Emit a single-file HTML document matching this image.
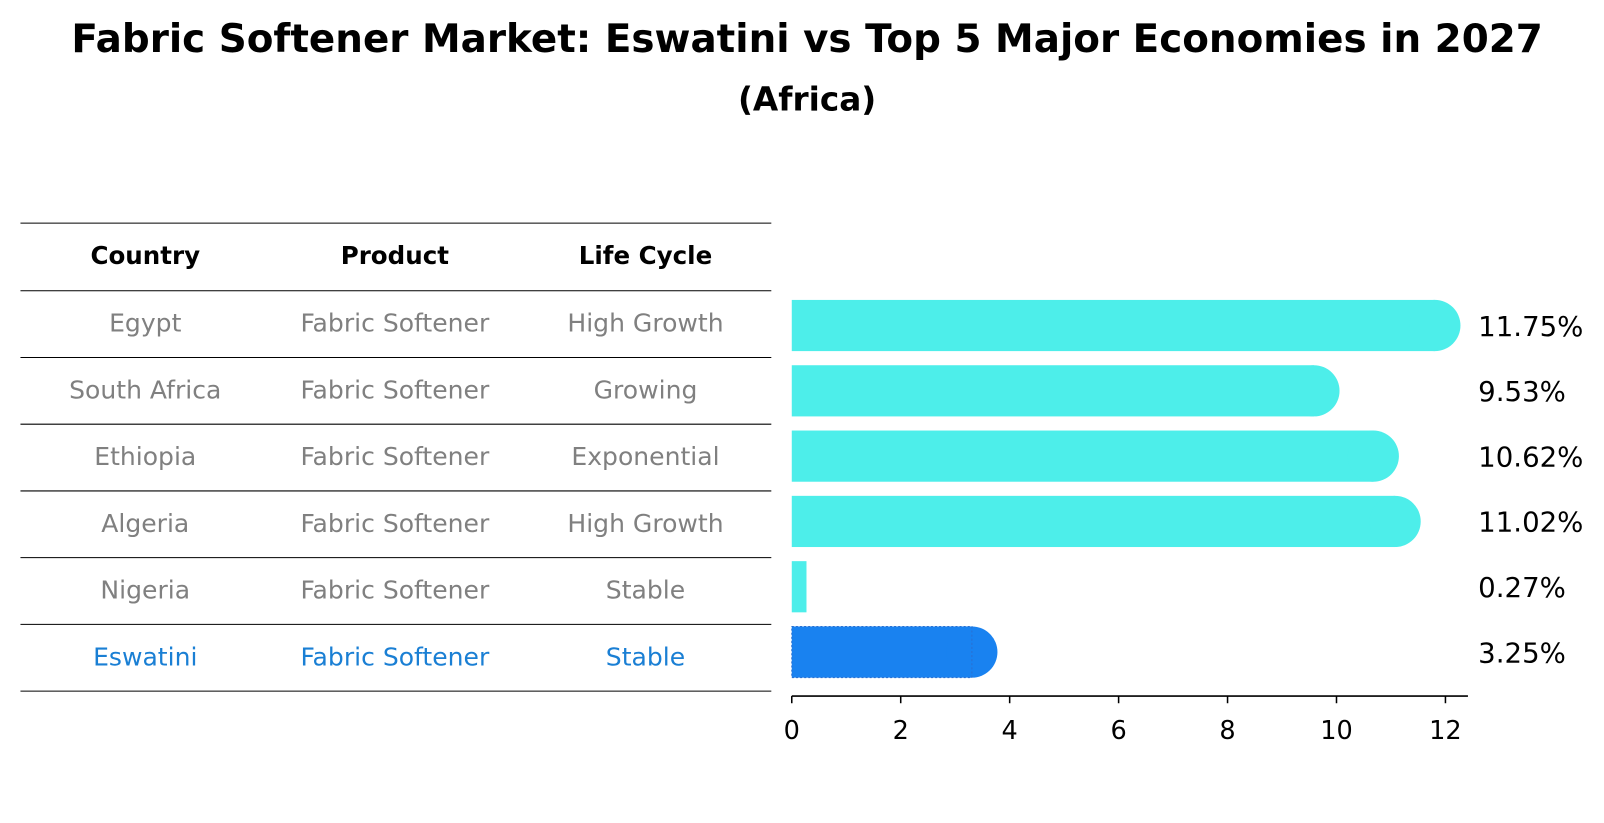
<!DOCTYPE html>
<html><head><meta charset="utf-8"><style>
html,body{margin:0;padding:0;background:#fff;}
svg{display:block;font-family:"DejaVu Sans","Liberation Sans",sans-serif;}
</style></head><body>
<svg id="chart" width="1604" height="823" viewBox="0 0 1568 804" preserveAspectRatio="none" xmlns="http://www.w3.org/2000/svg">
<rect width="1568" height="804" fill="#fff"/>
<text x="789" y="51" text-anchor="middle" font-size="38" font-weight="bold">Fabric Softener Market: Eswatini vs Top 5 Major Economies in 2027</text>
<text x="789" y="108" text-anchor="middle" font-size="32" font-weight="bold">(Africa)</text>
<g id="table"></g>
<g id="bars"></g>
</svg>
<script>
const countries = ["Egypt","South Africa","Ethiopia","Algeria","Nigeria","Eswatini"];
const products = ["Fabric Softener","Fabric Softener","Fabric Softener","Fabric Softener","Fabric Softener","Fabric Softener"];
const lifeCycles = ["High Growth","Growing","Exponential","High Growth","Stable","Stable"];
const values = [11.75, 9.53, 10.62, 11.02, 0.27, 3.25];
const valueLabels = ["11.75%","9.53%","10.62%","11.02%","0.27%","3.25%"];
const ticks = [0,2,4,6,8,10,12];
const highlight = "Eswatini";

const NS = "http://www.w3.org/2000/svg";
function mk(tag, attrs, parent){const e=document.createElementNS(NS,tag);for(const k in attrs)e.setAttribute(k,attrs[k]);parent.appendChild(e);return e;}
const table=document.getElementById('table'), bars=document.getElementById('bars');
const x0=774, unit=53.25;
const xs=v=>x0+v*unit;
const rowY=i=>318+i*63.8;
const barH=50;

// table
const lineYs=[218,284];
for(let i=0;i<countries.length;i++) lineYs.push(284+(i+1)*65.2);
lineYs.forEach((y,i)=>{const l=mk('line',{x1:20,x2:754,y1:y,y2:y,stroke:'#000','stroke-width':1},table);

});
const colX=[142,386,631];
["Country","Product","Life Cycle"].forEach((h,j)=>{const t=mk('text',{x:colX[j],y:258,'text-anchor':'middle','font-size':24,'font-weight':'bold'},table);t.textContent=h;

});
countries.forEach((c,i)=>{
  const y=316+i*65.2+8;
  const col=c===highlight?'#1a7fd4':'#808080';
  [c,products[i],lifeCycles[i]].forEach((v,j)=>{const t=mk('text',{x:colX[j],y:y,'text-anchor':'middle','font-size':24.5,fill:col},table);t.textContent=v;
  
  });
});

// bars
values.forEach((v,i)=>{
  const cy=rowY(i), col=countries[i]===highlight?'#1982f0':'#4deeea';
  const end=xs(v)+(v>1?3:0);
  const g=mk('g',{},bars);
  
  
  mk('rect',{x:x0,y:cy-barH/2,width:end-x0,height:barH,fill:col},g);
  if(v>1) mk('circle',{cx:end,cy:cy,r:barH/2,fill:col},g);
  if(countries[i]===highlight) mk('rect',{x:x0,y:cy-barH/2,width:end-x0,height:barH,fill:'none',stroke:'#2a6fd0','stroke-width':1,'stroke-dasharray':'2,2'},g);
  const t=mk('text',{x:1445,y:cy+10,'font-size':27},bars);t.textContent=valueLabels[i];
  
  
});
// axis
const ax=mk('line',{x1:x0,x2:1435,y1:680,y2:680,stroke:'#000','stroke-width':1.5},bars);


ticks.forEach(t=>{
  const x=xs(t);
  const l=mk('line',{x1:x,x2:x,y1:680,y2:687,stroke:'#000','stroke-width':1.5},bars);
  
  
  const tx=mk('text',{x:x,y:722,'text-anchor':'middle','font-size':25},bars);tx.textContent=t;
  
  
});
</script>
</body></html>
